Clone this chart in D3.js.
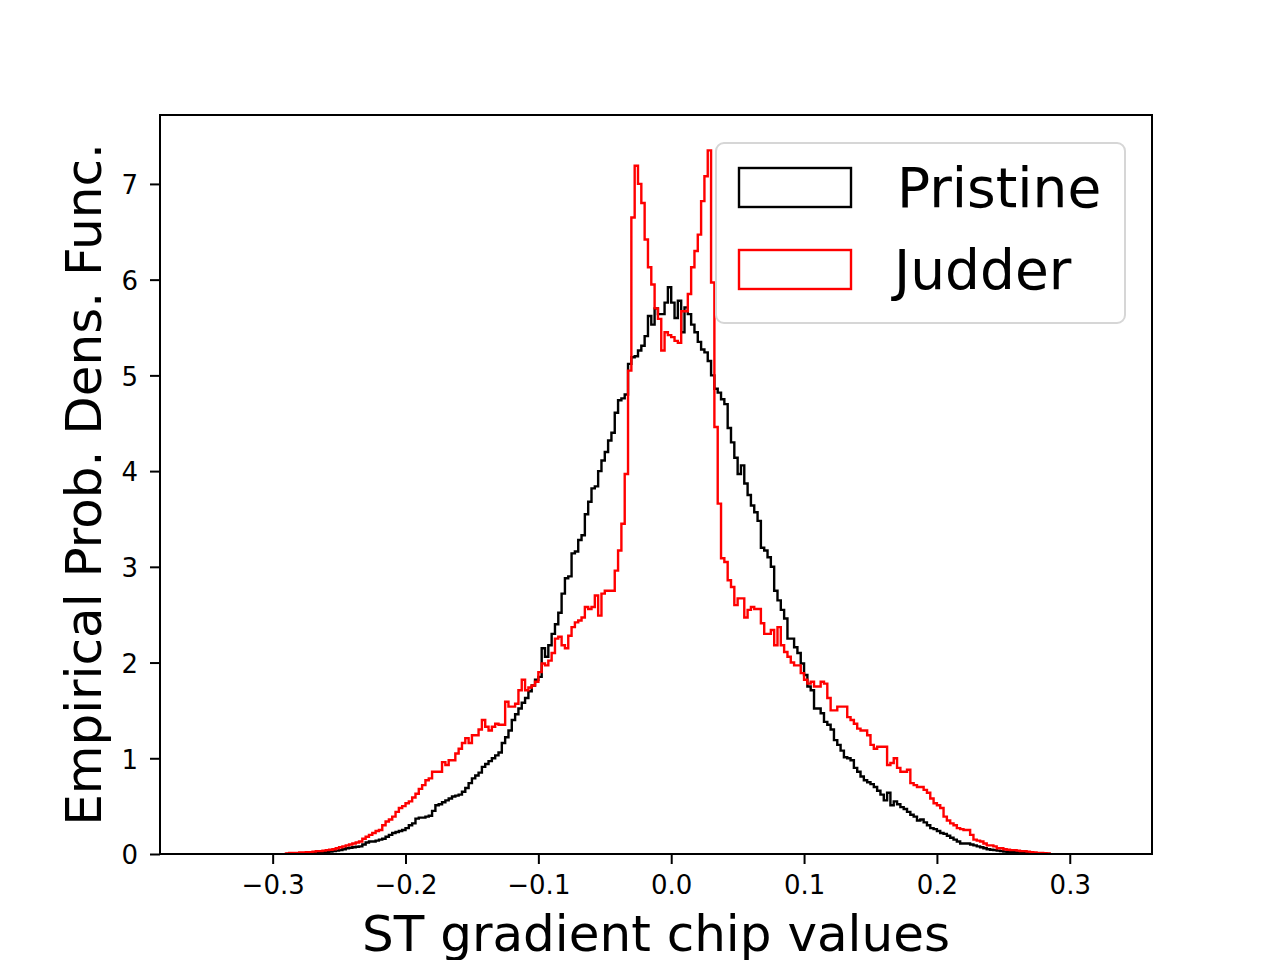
<!DOCTYPE html>
<html>
<head>
<meta charset="utf-8">
<script src="https://cdn.jsdelivr.net/npm/d3@7"></script>
<style>
  body { margin: 0; background: #fff; }
  text { font-family: "DejaVu Sans", sans-serif; }
</style>
</head>
<body>
<div id="chart"></div>
<script>
// histogram bins (shared by both series)
const binStart = -0.29;
const binWidth = 0.0025;

// density per bin
const pristine = [
  0, 0, 0.003, 0.003, 0.005, 0.005, 0.008, 0.008, 0.01, 0.012,
  0.015, 0.018, 0.02, 0.025, 0.03, 0.035, 0.04, 0.05, 0.06, 0.065,
  0.07, 0.075, 0.08, 0.1, 0.12, 0.13, 0.13, 0.14, 0.15, 0.16,
  0.18, 0.2, 0.22, 0.23, 0.24, 0.25, 0.27, 0.3, 0.32, 0.37,
  0.38, 0.38, 0.39, 0.4, 0.45, 0.51, 0.52, 0.54, 0.56, 0.58,
  0.6, 0.61, 0.62, 0.65, 0.69, 0.74, 0.79, 0.82, 0.85, 0.91,
  0.94, 0.97, 1.0, 1.03, 1.06, 1.16, 1.22, 1.29, 1.4, 1.46,
  1.52, 1.58, 1.63, 1.7, 1.76, 1.82, 1.85, 2.15, 2.06, 2.18,
  2.3, 2.4, 2.52, 2.72, 2.88, 2.9, 3.14, 3.16, 3.28, 3.33,
  3.55, 3.68, 3.82, 3.84, 4.0, 4.11, 4.2, 4.32, 4.4, 4.61,
  4.74, 4.76, 4.8, 5.12, 5.19, 5.2, 5.26, 5.31, 5.41, 5.62,
  5.53, 5.7, 5.64, 5.64, 5.76, 5.92, 5.76, 5.6, 5.78, 5.45,
  5.71, 5.64, 5.53, 5.45, 5.35, 5.27, 5.24, 5.15, 5.0, 4.86,
  4.82, 4.75, 4.7, 4.45, 4.3, 4.14, 3.97, 4.06, 3.87, 3.75,
  3.64, 3.57, 3.48, 3.2, 3.17, 3.1, 3.0, 2.75, 2.65, 2.55,
  2.46, 2.25, 2.25, 2.16, 2.1, 1.99, 1.87, 1.75, 1.71, 1.52,
  1.52, 1.47, 1.38, 1.35, 1.3, 1.19, 1.14, 1.08, 1.01, 1.0,
  0.98, 0.9, 0.86, 0.81, 0.77, 0.75, 0.73, 0.7, 0.66, 0.62,
  0.56, 0.64, 0.51, 0.55, 0.52, 0.49, 0.47, 0.44, 0.41, 0.39,
  0.35, 0.36, 0.33, 0.3, 0.27, 0.26, 0.24, 0.22, 0.21, 0.19,
  0.17, 0.15, 0.13, 0.11, 0.11, 0.11, 0.1, 0.09, 0.08, 0.07,
  0.06, 0.05, 0.045, 0.04, 0.035, 0.03, 0.025, 0.02, 0.02, 0.018,
  0.015, 0.012, 0.01, 0.01, 0.008, 0.005, 0.004, 0.002, 0, 0
];

const judder = [
  0.005, 0.01, 0.01, 0.01, 0.015, 0.015, 0.02, 0.02, 0.025, 0.03,
  0.03, 0.035, 0.04, 0.045, 0.05, 0.06, 0.07, 0.08, 0.09, 0.1,
  0.11, 0.12, 0.13, 0.16, 0.18, 0.2, 0.22, 0.24, 0.25, 0.3,
  0.34, 0.36, 0.39, 0.44, 0.48, 0.5, 0.53, 0.55, 0.59, 0.63,
  0.68, 0.72, 0.77, 0.79, 0.86, 0.86, 0.86, 0.96, 0.93, 0.98,
  0.98, 1.05, 1.1, 1.16, 1.21, 1.16, 1.24, 1.24, 1.3, 1.4,
  1.33, 1.29, 1.33, 1.36, 1.35, 1.35, 1.59, 1.54, 1.54, 1.57,
  1.71, 1.82, 1.71, 1.74, 1.76, 1.8, 1.9, 1.99, 1.97, 2.02,
  2.1, 2.25, 2.27, 2.18, 2.15, 2.28, 2.37, 2.42, 2.44, 2.47,
  2.58, 2.56, 2.58, 2.7, 2.49, 2.72, 2.75, 2.75, 2.75, 2.96,
  3.17, 3.45, 3.97, 5.05, 6.65, 7.19, 7.0, 6.8, 6.42, 6.13,
  5.95, 5.7, 5.59, 5.26, 5.45, 5.42, 5.4, 5.36, 5.34, 5.67,
  5.67, 5.85, 6.13, 6.3, 6.47, 6.82, 7.08, 7.35, 5.97, 4.46,
  3.66, 3.09, 3.05, 2.86, 2.79, 2.6, 2.67, 2.67, 2.47, 2.55,
  2.58, 2.56, 2.56, 2.41, 2.3, 2.3, 2.34, 2.18, 2.37, 2.18,
  2.11, 2.06, 2.0, 1.97, 1.97, 1.89, 1.82, 1.78, 1.8, 1.75,
  1.75, 1.8, 1.78, 1.63, 1.5, 1.5, 1.54, 1.54, 1.54, 1.43,
  1.4, 1.36, 1.31, 1.29, 1.29, 1.24, 1.14, 1.1, 1.12, 1.12,
  1.12, 0.93, 0.95, 1.0, 0.9, 0.86, 0.86, 0.88, 0.74, 0.72,
  0.7, 0.7, 0.67, 0.64, 0.58, 0.53, 0.51, 0.48, 0.39, 0.35,
  0.32, 0.3, 0.27, 0.26, 0.25, 0.25, 0.2, 0.15, 0.14, 0.13,
  0.11, 0.09, 0.09, 0.08, 0.06, 0.06, 0.05, 0.045, 0.04, 0.04,
  0.035, 0.03, 0.03, 0.025, 0.02, 0.015, 0.012, 0.01, 0.008, 0.005
];

const seriesNames = ['Pristine', 'Judder'];
const seriesColors = ['#000000', '#ff0000'];
const xTicks = [-0.3, -0.2, -0.1, 0.0, 0.1, 0.2, 0.3];
const yTicks = [0, 1, 2, 3, 4, 5, 6, 7];
const xLabel = 'ST gradient chip values';
const yLabel = 'Empirical Prob. Dens. Func.';

const W = 1280, H = 960;
const margin = { top: 115, right: 128, bottom: 106, left: 160 };
const width = W - margin.left - margin.right;
const height = H - margin.top - margin.bottom;

const svg = d3.select('#chart').append('svg')
  .attr('width', W)
  .attr('height', H);

const g = svg.append('g')
  .attr('transform', `translate(${margin.left},${margin.top})`);

const x = d3.scaleLinear().domain([-0.3848, 0.3619]).range([0, width]);
const y = d3.scaleLinear().domain([0, 7.72]).range([height, 0]);

svg.append('defs').append('clipPath').attr('id', 'plot-clip')
  .append('rect').attr('width', width).attr('height', height);

// step outline like histtype='step'
function stepPoints(values) {
  const pts = [[binStart, 0]];
  values.forEach((v, i) => {
    const x0 = binStart + i * binWidth;
    pts.push([x0, v], [x0 + binWidth, v]);
  });
  pts.push([binStart + values.length * binWidth, 0]);
  return pts;
}

const line = d3.line().x(d => x(d[0])).y(d => y(d[1]));

const plot = g.append('g').attr('clip-path', 'url(#plot-clip)');
[pristine, judder].forEach((vals, i) => {
  plot.append('path')
    .attr('d', line(stepPoints(vals)))
    .attr('fill', 'none')
    .attr('stroke', seriesColors[i])
    .attr('stroke-width', 2.4)
    .attr('stroke-linejoin', 'miter');
});

// axes
const xAxisG = g.append('g')
  .attr('transform', `translate(0,${height})`)
  .call(d3.axisBottom(x).tickValues(xTicks).tickFormat(d3.format('.1f'))
    .tickSize(10).tickPadding(12).tickSizeOuter(0));
const yAxisG = g.append('g')
  .call(d3.axisLeft(y).tickValues(yTicks).tickFormat(d3.format('d'))
    .tickSize(10).tickPadding(12).tickSizeOuter(0));

[xAxisG, yAxisG].forEach(a => {
  a.select('.domain').remove();
  a.selectAll('line').attr('stroke', '#000').attr('stroke-width', 2);
  a.selectAll('text')
    .style('font-family', '"DejaVu Sans", sans-serif')
    .style('font-size', '26px')
    .attr('fill', '#000');
});
yAxisG.selectAll('text').attr('dy', '0.38em');

// frame
g.append('rect')
  .attr('width', width)
  .attr('height', height)
  .attr('fill', 'none')
  .attr('stroke', '#000')
  .attr('stroke-width', 2);

// axis labels
svg.append('text')
  .attr('x', margin.left + width / 2)
  .attr('y', 951)
  .attr('text-anchor', 'middle')
  .style('font-size', '50px')
  .text(xLabel);

svg.append('text')
  .attr('transform', `translate(101,${margin.top + height / 2}) rotate(-90)`)
  .attr('text-anchor', 'middle')
  .style('font-size', '50px')
  .text(yLabel);

// legend
const legend = svg.append('g');
legend.append('rect')
  .attr('x', 716).attr('y', 143)
  .attr('width', 409).attr('height', 180)
  .attr('rx', 8)
  .attr('fill', 'rgba(255,255,255,0.8)')
  .attr('stroke', '#d6d6d6')
  .attr('stroke-width', 2);

seriesNames.forEach((name, i) => {
  const top = 168 + i * 82;
  legend.append('rect')
    .attr('x', 739).attr('y', top)
    .attr('width', 112).attr('height', 39)
    .attr('fill', 'none')
    .attr('stroke', seriesColors[i])
    .attr('stroke-width', 2.4);
  legend.append('text')
    .attr('x', i === 0 ? 897 : 894)
    .attr('y', top + 39)
    .style('font-size', '55px')
    .text(name);
});
</script>
</body>
</html>
